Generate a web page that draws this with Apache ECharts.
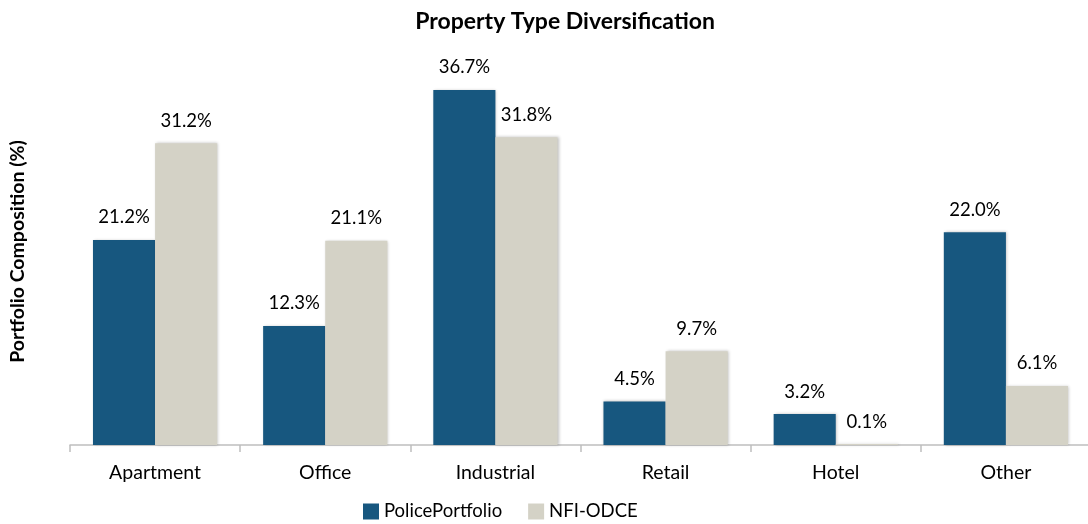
<!DOCTYPE html>
<html><head><meta charset="utf-8">
<script src="https://cdn.jsdelivr.net/npm/echarts@6/dist/echarts.min.js"></script>
<style>html,body{margin:0;padding:0;background:#fff}#c{width:1088px;height:524px}</style>
</head><body><div id="c"></div>
<script>
const categories = ['Apartment', 'Office', 'Industrial', 'Retail', 'Hotel', 'Other'];
const policePortfolio = [21.2, 12.3, 36.7, 4.5, 3.2, 22.0];
const nfiOdce = [31.2, 21.1, 31.8, 9.7, 0.1, 6.1];
const seriesNames = ['PolicePortfolio', 'NFI-ODCE'];
const FONT = 'Lato, "Open Sans", sans-serif';
const chart = echarts.init(document.getElementById('c'));
const lbl = {
  show: true, position: 'top', distance: 13,
  formatter: p => p.value.toFixed(1) + '%',
  color: '#000', fontSize: 18.5, fontFamily: FONT
};
chart.setOption({
  animation: false,
  title: {
    text: 'Property Type Diversification', left: 560, top: 5, textAlign: 'center',
    textStyle: { fontFamily: FONT, fontWeight: 'bold', fontSize: 23, color: '#000' }
  },
  legend: {
    bottom: -2, left: 358, itemWidth: 16, itemHeight: 16, itemGap: 26, icon: 'rect',
    textStyle: { fontFamily: FONT, fontSize: 18.5, color: '#000' },
    data: seriesNames
  },
  grid: { left: 70, width: 1021, top: 58, bottom: 79, outerBoundsMode: 'none', containLabel: false },
  xAxis: {
    type: 'category', data: categories,
    axisLine: { lineStyle: { color: '#bfbfbf', width: 1.5 } },
    axisTick: { show: true, length: 7, lineStyle: { color: '#bfbfbf', width: 1.5 } },
    axisLabel: { color: '#000', fontSize: 19.5, fontFamily: FONT, margin: 18 }
  },
  yAxis: {
    type: 'value', min: 0, max: 40, show: true,
    axisLine: { show: false }, axisTick: { show: false }, axisLabel: { show: false },
    splitLine: { show: false },
    name: 'Portfolio Composition (%)', nameLocation: 'middle', nameGap: 52, nameRotate: 90,
    nameTextStyle: { fontFamily: FONT, fontWeight: 'bold', fontSize: 19.5, color: '#000', verticalAlign: 'middle' }
  },
  series: [
    { name: seriesNames[0], type: 'bar', data: policePortfolio, barGap: '0%', barCategoryGap: '27%',
      itemStyle: { color: '#17577F', shadowColor: 'rgba(0,0,0,0.25)', shadowBlur: 3, shadowOffsetX: 1 }, label: lbl },
    { name: seriesNames[1], type: 'bar', data: nfiOdce, barGap: '0%', barCategoryGap: '27%',
      itemStyle: { color: '#D4D2C6', shadowColor: 'rgba(0,0,0,0.25)', shadowBlur: 3, shadowOffsetX: 1 }, label: lbl }
  ]
});
</script></body></html>
